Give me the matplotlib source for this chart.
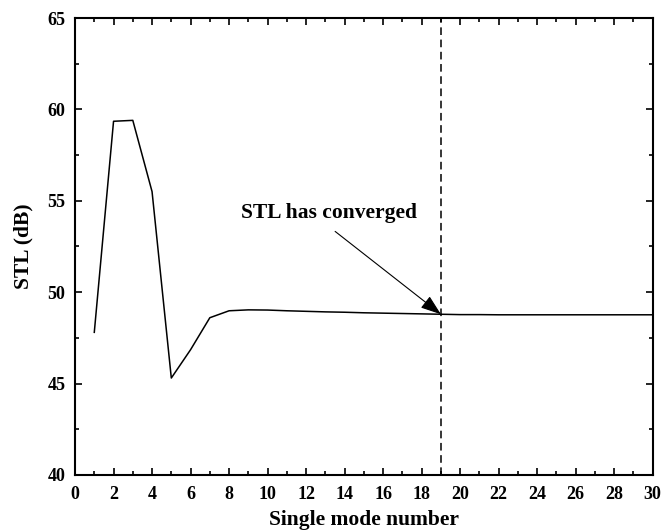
import matplotlib.pyplot as plt
from matplotlib.ticker import MultipleLocator

# Данные: STL по числу мод
modes = list(range(1, 31))
stl = [47.8, 59.35, 59.4, 55.5, 45.3, 46.85, 48.6, 48.98, 49.03, 49.02,
       48.98, 48.95, 48.92, 48.9, 48.87, 48.85, 48.83, 48.81, 48.79, 48.77,
       48.77, 48.76, 48.76, 48.76, 48.76, 48.76, 48.76, 48.76, 48.76, 48.76]
converged_mode = 19
converged_stl = stl[converged_mode - 1]

plt.rcParams['font.family'] = ['Liberation Serif', 'DejaVu Serif']
plt.rcParams['font.weight'] = 'bold'

fig = plt.figure(figsize=(6.64, 5.30), dpi=100)
ax = fig.add_axes([0.113, 0.104, 0.870, 0.862])

ax.plot(modes, stl, color='black', linewidth=1.1)
ax.axvline(converged_mode, color='black', linestyle=(0, (5, 3)), linewidth=1.1)

ax.annotate('STL has converged', xy=(converged_mode, converged_stl),
            xytext=(13.2, 54.35), ha='center', va='center',
            fontsize=15.5, fontweight='bold',
            arrowprops=dict(arrowstyle='-|>,head_length=0.7,head_width=0.25',
                            color='black', lw=0.8, relpos=(0.47, 0),
                            mutation_scale=18, shrinkA=7, shrinkB=0))

ax.set_xlim(0, 30)
ax.set_ylim(40, 65)
ax.xaxis.set_major_locator(MultipleLocator(2))
ax.xaxis.set_minor_locator(MultipleLocator(1))
ax.yaxis.set_major_locator(MultipleLocator(5))
ax.yaxis.set_minor_locator(MultipleLocator(2.5))
ax.tick_params(which='both', direction='in', top=True, right=True,
               labelsize=13, width=1.2)
ax.tick_params(which='major', length=5)
ax.tick_params(axis='x', which='major', pad=8)
ax.tick_params(axis='y', which='major', pad=7)
ax.tick_params(which='minor', length=3)
for s in ax.spines.values():
    s.set_linewidth(1.5)

ax.set_xlabel('Single mode number', fontsize=15.5, fontweight='bold')
ax.set_ylabel('STL (dB)', fontsize=15.5, fontweight='bold')
ax.xaxis.set_label_coords(0.5, -0.077)
ax.yaxis.set_label_coords(-0.072, 0.5)

fig.savefig('out.png', dpi=100)
